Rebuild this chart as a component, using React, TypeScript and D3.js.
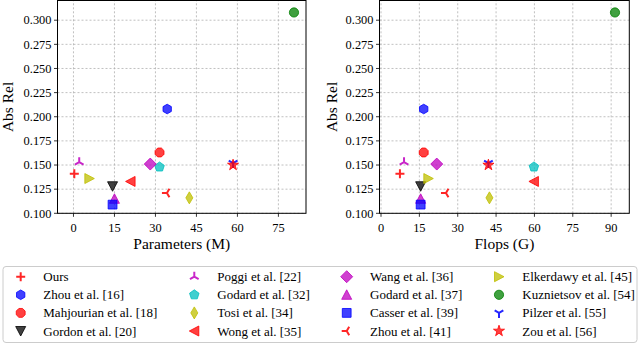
import React from 'react';
import * as d3 from 'd3';

// methods, in legend order (column-major, 4 columns)
const methods = [
    'Ours', 'Zhou et al. [16]', 'Mahjourian et al. [18]', 'Gordon et al. [20]',
    'Poggi et al. [22]', 'Godard et al. [32]', 'Tosi et al. [34]', 'Wong et al. [35]',
    'Wang et al. [36]', 'Godard et al. [37]', 'Casser et al. [39]', 'Zhou et al. [41]',
    'Elkerdawy et al. [45]', 'Kuznietsov et al. [54]', 'Pilzer et al. [55]', 'Zou et al. [56]',
];
const markers = ['+', 'h', '8', 'v', '2', 'p', 'd', '<', 'D', '^', 's', '3', '>', 'o', '1', '*'];
const colors = [
    '#ff0000', '#0000ff', '#ff0000', '#000000',
    '#bf00bf', '#00bfbf', '#bfbf00', '#ff0000',
    '#bf00bf', '#bf00bf', '#0000ff', '#ff0000',
    '#bfbf00', '#008000', '#0000ff', '#ff0000',
];
const absRel = [0.141, 0.208, 0.163, 0.128, 0.153, 0.148, 0.116, 0.133, 0.151, 0.115, 0.109, 0.121, 0.136, 0.308, 0.152, 0.150];
const params = [0.3, 34.3, 31.5, 14.3, 2.1, 31.5, 42.4, 20.9, 28.1, 15.0, 14.3, 34.2, 5.8, 80.7, 58.4, 58.4];
const flops = [7.4, 16.7, 16.7, 15.5, 9.0, 59.8, 42.4, 59.8, 21.8, 15.5, 15.5, 25.4, 18.5, 91.5, 42.0, 42.0];

const yTicks = [0.1, 0.125, 0.15, 0.175, 0.2, 0.225, 0.25, 0.275, 0.3];
const paramTicks = [0, 15, 30, 45, 60, 75];
const flopTicks = [0, 15, 30, 45, 60, 75, 90];

const FONT = 'Liberation Serif, Times New Roman, Times, serif';

const poly = (n: number, r: number, rot: number) => {
    const pts = d3.range(n).map(i => {
        const a = rot + (i * 2 * Math.PI) / n;
        return [r * Math.sin(a), -r * Math.cos(a)];
    });
    return 'M' + pts.map(p => p.join(',')).join('L') + 'Z';
};

const tri = (angles: number[], r: number) =>
    angles.map(a => `M0,0L${r * Math.sin(a)},${-r * Math.cos(a)}`).join('');

function markerPath(m: string): { d: string; line: boolean } {
    const pi = Math.PI;
    switch (m) {
        case '+': return { d: 'M-4.5,0L4.5,0M0,-4.5L0,4.5', line: true };
        case 'h': return { d: poly(6, 4.8, 0), line: false };
        case '8': return { d: poly(8, 4.8, pi / 8), line: false };
        case 'v': return { d: 'M-5,-4.5L5,-4.5L0,5Z', line: false };
        case '^': return { d: 'M-5,4.5L5,4.5L0,-5Z', line: false };
        case '<': return { d: 'M4.5,-5L4.5,5L-5,0Z', line: false };
        case '>': return { d: 'M-4.5,-5L-4.5,5L5,0Z', line: false };
        case 'p': return { d: poly(5, 5, 0), line: false };
        case 'd': return { d: 'M0,-6L3.5,0L0,6L-3.5,0Z', line: false };
        case 'D': return { d: 'M0,-6L6,0L0,6L-6,0Z', line: false };
        case 's': return { d: 'M-4.4,-4.4L4.4,-4.4L4.4,4.4L-4.4,4.4Z', line: false };
        case 'o': return { d: d3.symbol(d3.symbolCircle, Math.PI * 4.6 * 4.6)() || '', line: false };
        case '*': return { d: d3.symbol(d3.symbolStar, 38)() || '', line: false };
        case '2': return { d: tri([0, (2 * pi) / 3, (4 * pi) / 3], 5), line: true };
        case '1': return { d: tri([pi, pi / 3, -pi / 3], 5), line: true };
        case '3': return { d: tri([-pi / 2, pi / 6, (5 * pi) / 6], 5), line: true };
        default: return { d: '', line: false };
    }
}

function Marker({ x, y, i }: { x: number; y: number; i: number }) {
    const { d, line } = markerPath(markers[i]);
    const c = colors[i];
    return line ? (
        <path d={d} transform={`translate(${x},${y})`} fill="none" stroke={c} strokeWidth={2} strokeOpacity={0.85} />
    ) : (
        <path d={d} transform={`translate(${x},${y})`} fill={c} fillOpacity={0.75} stroke={c} strokeOpacity={0.8} strokeWidth={1} />
    );
}

function Panel({ xs, xDomain, xRange, ticks, xLabel, labelX }: {
    xs: number[]; xDomain: [number, number]; xRange: [number, number]; ticks: number[]; xLabel: string; labelX: number;
}) {
    const x = d3.scaleLinear().domain(xDomain).range(xRange);
    const y = d3.scaleLinear().domain([0.1, 0.3204]).range([213.3, 0.5]);
    const [x0, x1] = xRange;
    const [yb, yt] = y.range();
    return (
        <g>
            {ticks.map(t => (
                <line key={'gx' + t} x1={x(t)} x2={x(t)} y1={yb} y2={yt} stroke="#b0b0b0" strokeWidth={0.8} strokeDasharray="2,2" />
            ))}
            {yTicks.map(t => (
                <line key={'gy' + t} x1={x0} x2={x1} y1={y(t)} y2={y(t)} stroke="#b0b0b0" strokeWidth={0.8} strokeDasharray="2,2" />
            ))}
            {methods.map((_, i) => (
                <Marker key={i} x={x(xs[i])} y={y(absRel[i])} i={i} />
            ))}
            <rect x={x0} y={yt} width={x1 - x0} height={yb - yt} fill="none" stroke="#000" strokeWidth={1} />
            {ticks.map(t => (
                <g key={'tx' + t}>
                    <line x1={x(t)} x2={x(t)} y1={yb} y2={yb + 3.5} stroke="#000" strokeWidth={0.8} />
                    <text x={x(t)} y={231.5} textAnchor="middle" fontSize={12.4} fontFamily={FONT}>{t}</text>
                </g>
            ))}
            {yTicks.map(t => (
                <g key={'ty' + t}>
                    <line x1={x0 - 3.5} x2={x0} y1={y(t)} y2={y(t)} stroke="#000" strokeWidth={0.8} />
                    <text x={x0 - 6} y={y(t) + 4.3} textAnchor="end" fontSize={12.4} fontFamily={FONT}>{d3.format('.3f')(t)}</text>
                </g>
            ))}
            <text x={(x0 + x1) / 2} y={249} textAnchor="middle" fontSize={15.5} fontFamily={FONT}>{xLabel}</text>
            <text transform={`translate(${labelX},${(yb + yt) / 2}) rotate(-90)`} textAnchor="middle" fontSize={15.5} fontFamily={FONT}>Abs Rel</text>
        </g>
    );
}

const legendCols = [[20.7, 43.3], [194.3, 217.3], [346.7, 370], [499, 522.3]];

export default function App() {
    const rowY = d3.scaleLinear().domain([0, 3]).range([276.7, 331]);
    return (
        <svg width={640} height={344} style={{ position: 'absolute', left: 0, top: 0, background: '#fff' }}>
            <Panel xs={params} xDomain={[-5.85, 85.1]} xRange={[57.5, 306]} ticks={paramTicks} xLabel="Parameters (M)" labelX={12.5} />
            <Panel xs={flops} xDomain={[-0.59, 97.1]} xRange={[379.5, 629.3]} ticks={flopTicks} xLabel="Flops (G)" labelX={336.5} />
            <rect x={3} y={266.5} width={634} height={76} rx={3} fill="#fff" stroke="#cccccc" strokeWidth={1} />
            {methods.map((name, i) => {
                const col = Math.floor(i / 4);
                const row = i % 4;
                const cy = rowY(row);
                return (
                    <g key={name}>
                        <Marker x={legendCols[col][0]} y={cy} i={i} />
                        <text x={legendCols[col][1]} y={cy + 4.5} fontSize={13} fontFamily={FONT}>{name}</text>
                    </g>
                );
            })}
        </svg>
    );
}
